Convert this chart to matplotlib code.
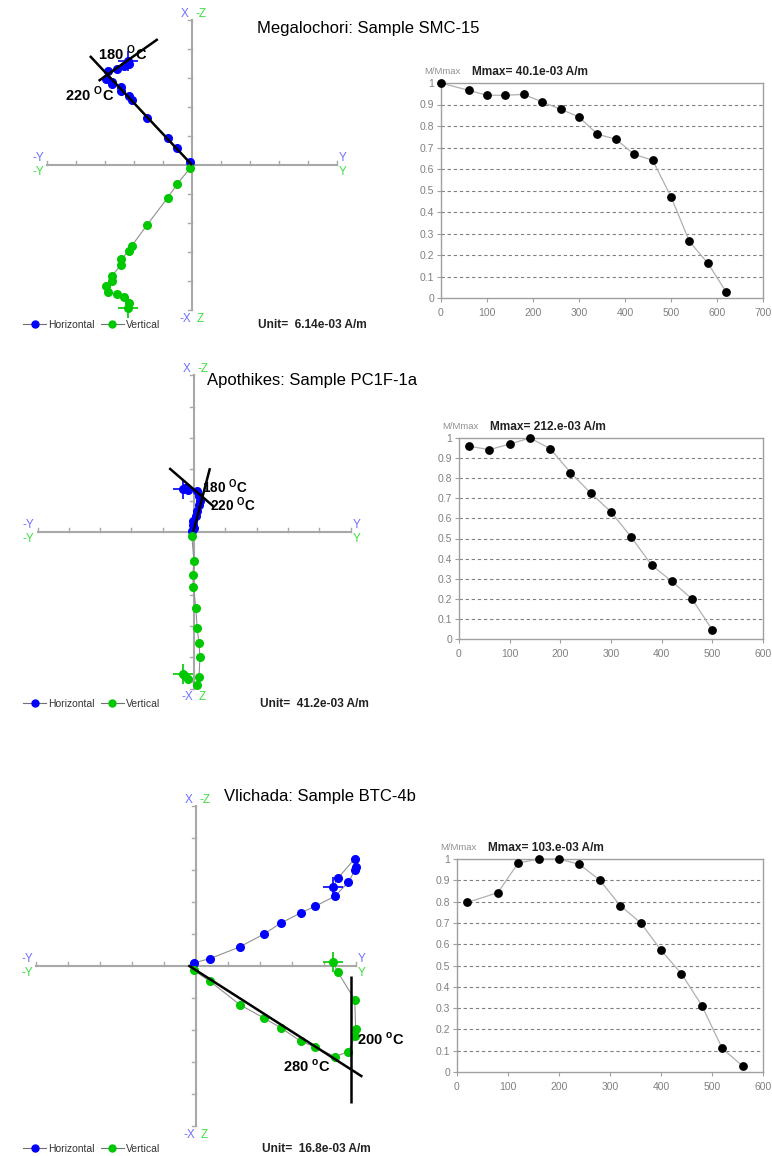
import numpy as np
import matplotlib
matplotlib.use('Agg')
import matplotlib.pyplot as plt
from matplotlib.lines import Line2D

plt.rcParams['font.family'] = ['Liberation Sans', 'DejaVu Sans']
plt.rcParams['mathtext.fontset'] = 'custom'
plt.rcParams['mathtext.rm'] = 'Liberation Sans'
plt.rcParams['mathtext.bf'] = 'Liberation Sans:bold'

# ---- Megalochori SMC-15 ----
smc_temp = [0, 60, 100, 140, 180, 220, 260, 300, 340, 380, 420, 460, 500, 540, 580, 620]
smc_mm = [1.0, 0.966, 0.943, 0.943, 0.947, 0.912, 0.878, 0.842, 0.762, 0.739,
          0.668, 0.641, 0.471, 0.263, 0.162, 0.028]
# zijderveld coords in plot units (Y east, X north, Z down)
smc_y = [-2.22, -2.16, -2.33, -2.59, -2.89, -2.97, -2.77, -2.77, -2.45, -2.45,
         -2.16, -2.08, -1.55, -0.84, -0.52, -0.07]
smc_x = [3.59, 3.48, 3.41, 3.30, 3.25, 2.97, 2.85, 2.80, 2.68, 2.56,
         2.38, 2.24, 1.63, 0.94, 0.57, 0.09]
smc_z = [4.94, 4.77, 4.54, 4.45, 4.39, 4.16, 3.99, 3.83, 3.45, 3.25,
         2.95, 2.79, 2.07, 1.13, 0.67, 0.11]
smc_fit_a = ([-1.18, -3.22], [4.34, 2.90])
smc_fit_b = ([-3.52, 0.0], [3.76, 0.0])

# ---- Apothikes PC1F-1a ----
pc_temp = [20, 60, 100, 140, 180, 220, 260, 300, 340, 380, 420, 460, 500]
pc_mm = [0.959, 0.942, 0.970, 1.0, 0.947, 0.828, 0.726, 0.632, 0.507, 0.368,
         0.287, 0.199, 0.045]
pc_y = [-0.36, -0.29, -0.18, 0.11, 0.16, 0.19, 0.16, 0.10, 0.06, -0.02, -0.04, 0.0, -0.07]
pc_x = [1.37, 1.42, 1.35, 1.30, 1.15, 1.00, 0.85, 0.68, 0.52, 0.36, 0.22, 0.12, 0.04]
pc_z = [4.55, 4.59, 4.69, 4.90, 4.64, 4.00, 3.56, 3.07, 2.43, 1.77, 1.38, 0.94, 0.12]
pc_fit_a = ([-0.79, 0.62], [2.04, 0.82])
pc_fit_b = ([-0.02, 0.51], [0.01, 2.04])

# ---- Vlichada BTC-4b ----
btc_temp = [20, 80, 120, 160, 200, 240, 280, 320, 360, 400, 440, 480, 520, 560]
btc_mm = [0.796, 0.842, 0.981, 1.0, 1.0, 0.975, 0.901, 0.781, 0.701, 0.572,
          0.462, 0.312, 0.111, 0.028]
btc_y = [4.28, 4.43, 4.96, 4.99, 4.97, 4.76, 4.34, 3.71, 3.27, 2.65, 2.11, 1.37, 0.44, -0.07]
btc_x = [2.46, 2.74, 3.35, 3.10, 3.00, 2.62, 2.18, 1.86, 1.66, 1.34, 0.99, 0.60, 0.23, 0.10]
btc_z = [-0.13, 0.19, 1.05, 1.96, 2.19, 2.68, 2.83, 2.53, 2.35, 1.93, 1.62, 1.21, 0.48, 0.14]
btc_fit_a = ([-0.24, 5.2], [0.02, -3.46])
btc_fit_b = ([4.84, 4.84], [-0.31, -4.27])

W, H = 772, 1156
fig = plt.figure(figsize=(W / 100, H / 100), dpi=100)


def fx(px):
    return px / W


def fy(py):
    return 1 - py / H


BLUE = '#0000ff'
GREEN = '#00c800'
AXC = '#a8a8a8'


def zijderveld(ox, oy, T, ys, xs, zs, fits, labels, unit, leg_y, title, title_xy, lab_fs=10.5):
    ax = fig.add_axes([fx(ox - 6 * T), fy(oy + 6 * T), 12 * T / W, 12 * T / H])
    ax.set_xlim(-6, 6)
    ax.set_ylim(-6, 6)
    ax.axis('off')
    ax.plot([-5, 5], [0, 0], color=AXC, lw=1.5, zorder=1)
    ax.plot([0, 0], [-5, 5], color=AXC, lw=1.5, zorder=1)
    for k in range(-5, 6):
        if k == 0:
            continue
        ax.plot([k, k], [0, 0.13], color=AXC, lw=1.0, zorder=1)
        ax.plot([-0.13, 0], [k, k], color=AXC, lw=1.0, zorder=1)
    ys = np.array(ys)
    xs = np.array(xs)
    up = -np.array(zs)
    ax.plot(ys, xs, color='#909090', lw=0.8, marker='o', ms=5.5,
            mfc=BLUE, mec=BLUE, zorder=3)
    ax.plot(ys, up, color='#909090', lw=0.8, marker='o', ms=5.5,
            mfc=GREEN, mec=GREEN, zorder=3)
    ax.plot(ys[0], xs[0], marker='+', ms=15, mew=1.2, color=BLUE, zorder=3)
    ax.plot(ys[0], up[0], marker='+', ms=15, mew=1.2, color=GREEN, zorder=3)
    for fxs, fys in fits:
        ax.plot(fxs, fys, color='black', lw=1.8, zorder=4, solid_capstyle='butt')
    for txt, px, py in labels:
        fig.text(fx(px), fy(py), txt, fontsize=lab_fs, fontweight='bold',
                 ha='center', va='center')
    # axis labels
    top = oy - 5 * T - 6
    bot = oy + 5 * T + 9
    lft = ox - 5 * T - 9
    rgt = ox + 5 * T + 6
    lb = '#7070ff'
    lg = '#40dd40'
    fs = 8.5
    fig.text(fx(ox - 7), fy(top), 'X', color=lb, fontsize=fs, ha='center', va='center')
    fig.text(fx(ox + 9), fy(top), '-Z', color=lg, fontsize=fs, ha='center', va='center')
    fig.text(fx(ox - 7), fy(bot), '-X', color=lb, fontsize=fs, ha='center', va='center')
    fig.text(fx(ox + 8), fy(bot), 'Z', color=lg, fontsize=fs, ha='center', va='center')
    fig.text(fx(lft), fy(oy - 7), '-Y', color=lb, fontsize=fs, ha='center', va='center')
    fig.text(fx(lft), fy(oy + 7), '-Y', color=lg, fontsize=fs, ha='center', va='center')
    fig.text(fx(rgt), fy(oy - 7), 'Y', color=lb, fontsize=fs, ha='center', va='center')
    fig.text(fx(rgt), fy(oy + 7), 'Y', color=lg, fontsize=fs, ha='center', va='center')
    h1 = Line2D([], [], color='#707070', lw=0.8, marker='o', ms=5, mfc=BLUE, mec=BLUE)
    h2 = Line2D([], [], color='#707070', lw=0.8, marker='o', ms=5, mfc=GREEN, mec=GREEN)
    fig.legend([h1, h2], ['Horizontal', 'Vertical'], loc='center left',
               bbox_to_anchor=(fx(18), fy(leg_y)), ncol=2, frameon=False,
               fontsize=7.5, handlelength=2.2, handletextpad=0.2,
               columnspacing=0.6, borderpad=0, labelcolor='#333333')
    fig.text(fx(ox + 66), fy(leg_y), unit, fontsize=8.6, fontweight='bold',
             ha='left', va='center', color='#222222')
    fig.text(fx(title_xy[0]), fy(title_xy[1]), title, fontsize=12,
             ha='center', va='center')


def decay(left, right, top, bottom, xmax, temp, mm, mmax):
    ax = fig.add_axes([fx(left), fy(bottom), (right - left) / W, (bottom - top) / H])
    ax.plot(temp, mm, color='#b0b0b0', lw=0.9, marker='o', ms=5.3,
            mfc='black', mec='black', zorder=3, clip_on=False)
    ax.set_xlim(0, xmax)
    ax.set_ylim(0, 1)
    ax.set_xticks(np.arange(0, xmax + 1, 100))
    yt = np.round(np.arange(0, 1.01, 0.1), 1)
    ax.set_yticks(yt)
    ax.set_yticklabels(['0'] + ['%.1f' % v for v in yt[1:-1]] + ['1'])
    for v in yt[1:-1]:
        ax.axhline(v, color='#808080', lw=0.8, ls=(0, (3, 2.5)), zorder=1)
    for s in ax.spines.values():
        s.set_color('#a0a0a0')
        s.set_linewidth(1.0)
    ax.tick_params(colors='#a0a0a0', labelcolor='#808080', labelsize=7.5,
                   length=3, width=0.8, pad=2)
    ax.tick_params(axis='x', pad=4)
    fig.text(fx(left + 1), fy(top - 11), 'M/Mmax', fontsize=6.8, color='#909090',
             ha='center', va='center')
    fig.text(fx(left + 31), fy(top - 11), 'Mmax= %s A/m' % mmax, fontsize=8.6,
             fontweight='bold', ha='left', va='center', color='#222222')


deg_O = r'$^{\mathbf{O}}$C'
deg_o = r'$^{\mathbf{o}}$C'

zijderveld(192, 165, 29, smc_y, smc_x, smc_z, [smc_fit_a, smc_fit_b],
           [('180 ' + deg_O, 123, 53), ('220 ' + deg_O, 90, 94)],
           'Unit=  6.14e-03 A/m', 325, 'Megalochori: Sample SMC-15', (368, 28))
decay(441, 763, 83, 298, 700, smc_temp, smc_mm, '40.1e-03')

zijderveld(194, 532, 31.3, pc_y, pc_x, pc_z, [pc_fit_a, pc_fit_b],
           [('180 ' + deg_O, 225, 487), ('220 ' + deg_O, 233, 505)],
           'Unit=  41.2e-03 A/m', 704, 'Apothikes: Sample PC1F-1a', (312, 381),
           lab_fs=9.8)
decay(459, 763, 438, 639, 600, pc_temp, pc_mm, '212.e-03')

zijderveld(196, 966, 32, btc_y, btc_x, btc_z, [btc_fit_a, btc_fit_b],
           [('200 ' + deg_o, 381, 1039), ('280 ' + deg_o, 307, 1066)],
           'Unit=  16.8e-03 A/m', 1149, 'Vlichada: Sample BTC-4b', (320, 797))
decay(457, 763, 859, 1072, 600, btc_temp, btc_mm, '103.e-03')

fig.savefig('out.png', dpi=100)
